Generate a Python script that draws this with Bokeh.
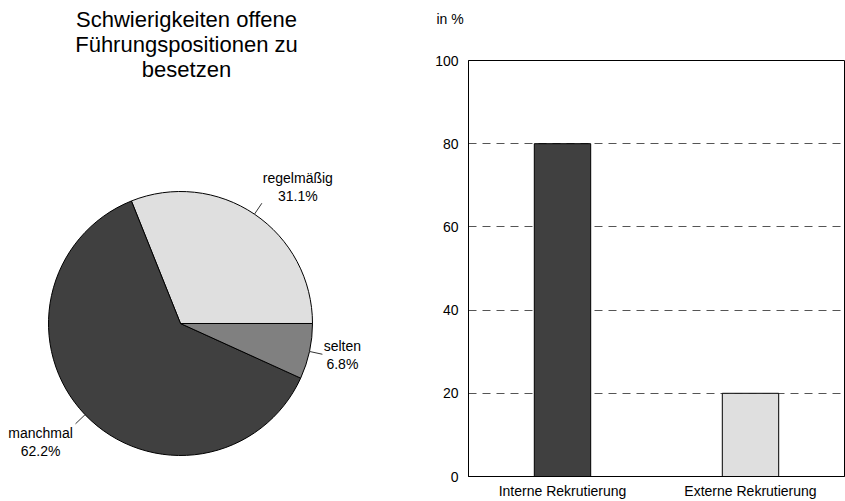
import math
from bokeh.plotting import figure
from bokeh.layouts import row
from bokeh.models import Range1d, FactorRange, ColumnDataSource, Label, Title
from bokeh.core.properties import value
from bokeh.embed import file_html
from bokeh.resources import INLINE

# ---------------- data ----------------
pie_title = "Schwierigkeiten offene\nFührungspositionen zu\nbesetzen"
pie_labels = ["regelmäßig", "manchmal", "selten"]
pie_values = [31.1, 62.2, 6.8]
pie_colors = ["#dfdfdf", "#404040", "#808080"]
label_dx = [36, -35, 20]      # pixel offsets of the slice labels (style)
label_dy = [-16, 18, 1]

bar_categories = ["Interne Rekrutierung", "Externe Rekrutierung"]
bar_values = [80, 20]
bar_colors = ["#404040", "#dfdfdf"]
y_ticks = [0, 20, 40, 60, 80, 100]
y_unit = "in %"

FONT = "Liberation Sans"

# ---------------- pie ----------------
R = 132
pie = figure(width=400, height=501, output_backend="svg", toolbar_location=None,
             x_range=Range1d(-180, 220), y_range=Range1d(-178, 323),
             min_border=0, tools="", frame_align=False, title=None)
pie.axis.visible = False
pie.grid.visible = False
pie.outline_line_color = None

total = sum(pie_values)
starts, ends, mids = [], [], []
acc = 0.0
for v in pie_values:
    a0 = acc / total * 2 * math.pi
    acc += v
    a1 = acc / total * 2 * math.pi
    starts.append(a0); ends.append(a1); mids.append((a0 + a1) / 2)

src = ColumnDataSource(dict(start=starts, end=ends, color=pie_colors))
pie.wedge(x=0, y=0, radius=R, start_angle="start", end_angle="end",
          fill_color="color", line_color="black", line_width=1, source=src)

x0 = [R * math.cos(m) for m in mids]
y0 = [R * math.sin(m) for m in mids]
x1 = [1.1 * R * math.cos(m) for m in mids]
y1 = [1.1 * R * math.sin(m) for m in mids]
pie.segment(x0=x0, y0=y0, x1=x1, y1=y1, line_color="#333333", line_width=1)

texts = [f"{l}\n{v:.1f}%" for l, v in zip(pie_labels, pie_values)]
lsrc = ColumnDataSource(dict(x=x1, y=y1, text=texts, dx=label_dx, dy=label_dy))
pie.text(x="x", y="y", text="text", x_offset="dx", y_offset="dy", source=lsrc,
         text_align="center", text_baseline="middle", text_font=value(FONT),
         text_font_size="14px", text_color="black", text_line_height=1.1)

pie.add_layout(Label(x=6, y=279, text=pie_title, text_align="center",
                     text_baseline="middle", text_font=FONT, text_font_size="22px",
                     text_color="black", text_line_height=1.0))

# ---------------- bars ----------------
bar = figure(width=445, height=501, output_backend="svg", toolbar_location=None,
             x_range=FactorRange(*bar_categories), y_range=Range1d(0, 100),
             min_border_left=68, min_border_right=1, min_border_top=60,
             min_border_bottom=24, tools="", frame_align=False, title=None)
bsrc = ColumnDataSource(dict(cat=bar_categories, val=bar_values, color=bar_colors))
bar.vbar(x="cat", top="val", width=0.3, fill_color="color", line_color="black",
         line_width=1, source=bsrc)

bar.yaxis.ticker = y_ticks
bar.xgrid.visible = False
bar.ygrid.grid_line_color = "#555555"
bar.ygrid.grid_line_dash = "8 6"
bar.ygrid.grid_line_width = 1
bar.outline_line_color = "black"
bar.outline_line_width = 1
for ax in (bar.xaxis, bar.yaxis):
    ax.major_tick_out = 0
    ax.major_tick_in = 0
    ax.minor_tick_out = 0
    ax.minor_tick_in = 0
    ax.axis_line_color = "black"
    ax.major_label_text_font = FONT
    ax.major_label_text_font_size = "14px"
    ax.major_label_text_color = "black"
bar.yaxis.major_label_standoff = 10
bar.xaxis.major_label_standoff = 6

# spacer panel next to the frame, then the unit label above it
bar.add_layout(Title(text=" ", text_font=FONT, text_font_size="14px",
                     standoff=16), "above")
bar.add_layout(Title(text=y_unit, align="left", offset=-32, text_font=FONT,
                     text_font_size="14px", text_font_style="normal",
                     text_color="black", standoff=0), "above")

layout = row(pie, bar)
open("out.html", "w").write(file_html(layout, INLINE))
